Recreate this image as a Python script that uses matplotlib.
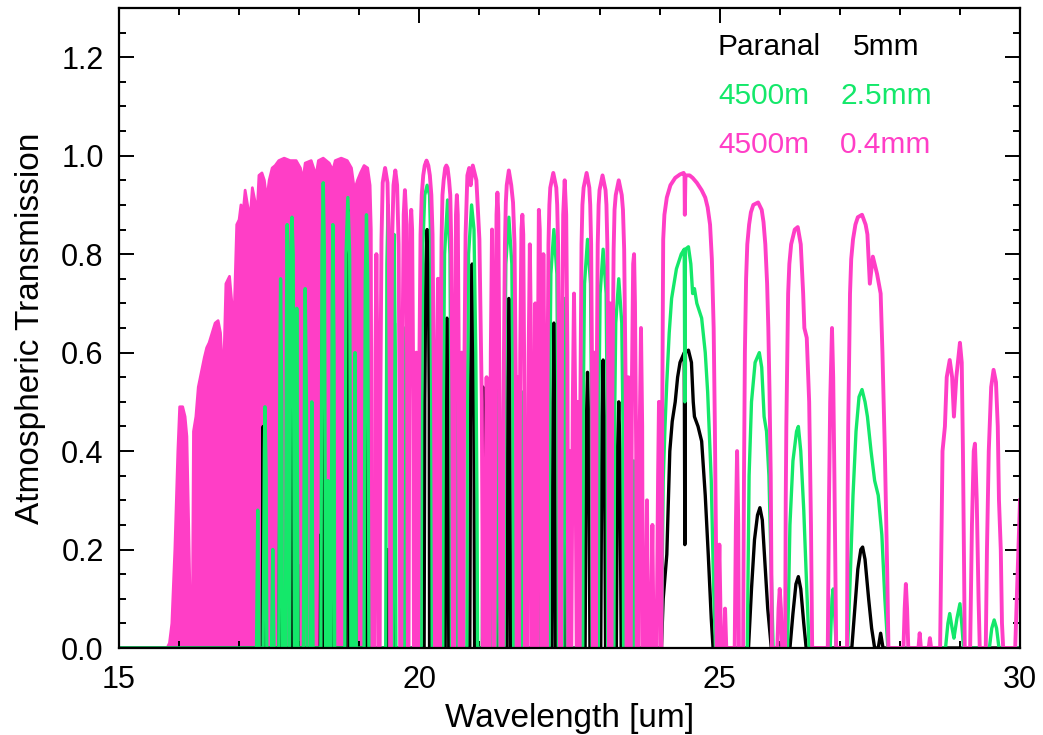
import numpy as np
import matplotlib.pyplot as plt

# transmission curves, (wavelength [um], transmission) pairs
# pink: unresolved line forest at short wavelengths, given as its upper envelope
pink_forest = [
    (15.00, 0.0), (15.80, 0.0), (15.84, 0.01), (15.88, 0.05), (15.93, 0.20),
    (15.98, 0.40), (16.01, 0.49), (16.06, 0.49), (16.10, 0.47), (16.13, 0.43),
    (16.16, 0.25), (16.18, 0.12), (16.20, 0.02), (16.22, 0.02), (16.24, 0.44),
    (16.28, 0.47), (16.32, 0.53), (16.37, 0.56), (16.42, 0.59), (16.46, 0.61),
    (16.50, 0.62), (16.55, 0.64), (16.60, 0.66), (16.65, 0.665), (16.69, 0.64),
    (16.72, 0.57), (16.75, 0.60), (16.78, 0.74), (16.84, 0.755), (16.88, 0.70),
    (16.92, 0.69), (16.96, 0.86), (17.00, 0.87), (17.03, 0.90), (17.07, 0.89),
    (17.10, 0.93), (17.14, 0.90), (17.18, 0.87), (17.22, 0.935), (17.26, 0.91),
    (17.30, 0.885), (17.33, 0.96), (17.38, 0.965), (17.42, 0.95), (17.46, 0.91),
    (17.50, 0.95), (17.55, 0.975), (17.60, 0.98), (17.66, 0.99), (17.75, 0.995),
    (17.85, 0.99), (17.95, 0.99), (18.02, 0.975), (18.06, 0.95), (18.10, 0.985),
    (18.20, 0.99), (18.28, 0.96), (18.32, 0.99), (18.40, 0.995), (18.50, 0.985),
    (18.56, 0.97), (18.60, 0.99), (18.70, 0.995), (18.80, 0.99), (18.87, 0.975),
    (18.92, 0.93), (18.97, 0.95), (19.02, 0.965), (19.08, 0.98), (19.14, 0.975),
    (19.18, 0.94), (19.20, 0.85), (19.22, 0.0),
]

# pink: resolved windows, 4500m / 0.4mm
pink_pts = [
    (19.22, 0.0), (19.25, 0.0), (19.27, 0.6), (19.285, 0.80), (19.30, 0.6), (19.32, 0.0),
    (19.34, 0.0), (19.35, 0.49), (19.37, 0.83), (19.39, 0.945), (19.43, 0.975),
    (19.47, 0.945), (19.49, 0.83), (19.51, 0.49), (19.52, 0.0),
    (19.53, 0.5), (19.545, 0.82), (19.57, 0.94), (19.60, 0.97), (19.63, 0.94),
    (19.655, 0.82), (19.67, 0.5), (19.68, 0.0),
    (19.70, 0.0), (19.72, 0.6), (19.74, 0.88), (19.76, 0.93), (19.78, 0.88), (19.795, 0.6), (19.81, 0.0),
    (19.82, 0.0), (19.835, 0.6), (19.85, 0.86), (19.865, 0.89), (19.88, 0.85), (19.90, 0.5), (19.91, 0.0),
    (19.92, 0.0), (19.935, 0.45), (19.95, 0.60), (19.965, 0.45), (19.975, 0.0),
    (19.98, 0.0), (19.995, 0.5), (20.02, 0.84), (20.04, 0.92), (20.065, 0.96), (20.09, 0.98),
    (20.12, 0.99), (20.15, 0.98), (20.175, 0.96), (20.20, 0.92), (20.22, 0.84), (20.245, 0.5), (20.26, 0.0),
    (20.28, 0.0), (20.295, 0.55), (20.31, 0.75), (20.325, 0.55), (20.335, 0.0),
    (20.34, 0.0), (20.35, 0.49), (20.37, 0.83), (20.385, 0.92), (20.405, 0.95), (20.43, 0.975),
    (20.45, 0.98), (20.47, 0.975), (20.495, 0.95), (20.515, 0.92), (20.53, 0.83), (20.55, 0.49), (20.56, 0.0),
    (20.58, 0.0), (20.595, 0.6), (20.61, 0.88), (20.625, 0.92), (20.64, 0.88), (20.655, 0.6), (20.67, 0.0),
    (20.68, 0.0), (20.695, 0.45), (20.705, 0.6), (20.715, 0.4), (20.72, 0.0),
    (20.73, 0.0), (20.745, 0.5), (20.77, 0.84), (20.80, 0.96), (20.83, 0.975), (20.855, 0.94),
    (20.89, 0.98), (20.95, 0.95), (21.00, 0.83), (21.04, 0.5), (21.06, 0.0),
    (21.09, 0.0), (21.11, 0.4), (21.12, 0.55), (21.135, 0.4), (21.15, 0.0),
    (21.17, 0.0), (21.19, 0.6), (21.21, 0.85), (21.23, 0.6), (21.24, 0.0),
    (21.25, 0.0), (21.27, 0.6), (21.285, 0.88), (21.30, 0.925), (21.315, 0.88), (21.33, 0.6), (21.35, 0.0),
    (21.39, 0.0), (21.40, 0.48), (21.425, 0.82), (21.44, 0.905), (21.455, 0.94), (21.49, 0.97),
    (21.53, 0.94), (21.56, 0.905), (21.585, 0.82), (21.61, 0.48), (21.62, 0.0),
    (21.63, 0.0), (21.64, 0.4), (21.65, 0.55), (21.655, 0.0),
    (21.66, 0.0), (21.68, 0.6), (21.70, 0.85), (21.715, 0.88), (21.73, 0.84), (21.75, 0.5), (21.76, 0.0),
    (21.77, 0.0), (21.78, 0.45), (21.79, 0.0),
    (21.80, 0.0), (21.82, 0.6), (21.84, 0.82), (21.86, 0.6), (21.87, 0.0),
    (21.90, 0.0), (21.92, 0.5), (21.93, 0.70), (21.945, 0.5), (21.955, 0.0),
    (21.96, 0.0), (21.975, 0.6), (21.99, 0.89), (22.005, 0.85), (22.02, 0.5), (22.03, 0.0),
    (22.04, 0.0), (22.055, 0.6), (22.065, 0.80), (22.08, 0.6), (22.09, 0.0),
    (22.095, 0.0), (22.105, 0.5), (22.115, 0.0),
    (22.12, 0.0), (22.13, 0.48), (22.15, 0.82), (22.165, 0.9), (22.18, 0.935), (22.23, 0.965),
    (22.28, 0.935), (22.295, 0.9), (22.31, 0.82), (22.33, 0.48), (22.34, 0.0),
    (22.36, 0.0), (22.375, 0.6), (22.395, 0.88), (22.42, 0.95), (22.445, 0.88), (22.465, 0.6), (22.48, 0.0),
    (22.49, 0.0), (22.50, 0.4), (22.515, 0.0),
    (22.53, 0.0), (22.555, 0.5), (22.575, 0.72), (22.595, 0.5), (22.62, 0.0),
    (22.63, 0.0), (22.645, 0.5), (22.66, 0.0),
    (22.67, 0.0), (22.68, 0.48), (22.70, 0.82), (22.715, 0.9), (22.735, 0.935), (22.785, 0.965),
    (22.83, 0.935), (22.845, 0.9), (22.86, 0.82), (22.88, 0.48), (22.89, 0.0),
    (22.90, 0.0), (22.915, 0.6), (22.93, 0.0),
    (22.94, 0.0), (22.95, 0.48), (22.97, 0.82), (22.985, 0.9), (23.00, 0.93), (23.05, 0.96),
    (23.10, 0.93), (23.115, 0.9), (23.13, 0.82), (23.15, 0.48), (23.16, 0.0),
    (23.17, 0.0), (23.18, 0.7), (23.19, 0.0),
    (23.20, 0.0), (23.21, 0.47), (23.235, 0.81), (23.25, 0.89), (23.27, 0.92), (23.32, 0.95),
    (23.37, 0.92), (23.39, 0.89), (23.41, 0.81), (23.44, 0.47), (23.45, 0.0),
    (23.46, 0.0), (23.48, 0.55), (23.50, 0.0),
    (23.52, 0.0), (23.54, 0.55), (23.56, 0.78), (23.575, 0.80), (23.59, 0.7), (23.61, 0.4), (23.62, 0.0),
    (23.65, 0.0), (23.67, 0.45), (23.69, 0.65), (23.71, 0.45), (23.72, 0.0),
    (23.76, 0.0), (23.79, 0.30), (23.81, 0.0), (23.85, 0.0), (23.88, 0.25), (23.90, 0.0),
    (23.95, 0.0), (23.975, 0.35), (23.99, 0.50), (24.005, 0.35), (24.02, 0.0),
    (24.03, 0.0), (24.045, 0.5), (24.06, 0.83), (24.08, 0.88), (24.12, 0.915), (24.18, 0.94),
    (24.26, 0.955), (24.34, 0.962), (24.40, 0.965), (24.415, 0.96), (24.42, 0.88), (24.43, 0.96),
    (24.50, 0.96), (24.55, 0.955), (24.62, 0.945), (24.70, 0.93), (24.76, 0.915), (24.80, 0.895),
    (24.84, 0.86), (24.87, 0.79), (24.90, 0.65), (24.92, 0.45), (24.94, 0.2), (24.95, 0.0),
    (24.97, 0.0), (24.985, 0.15), (24.995, 0.21), (25.01, 0.1), (25.02, 0.0),
    (25.07, 0.0), (25.09, 0.08), (25.11, 0.0),
    (25.25, 0.0), (25.27, 0.25), (25.29, 0.40), (25.31, 0.25), (25.32, 0.0),
    (25.39, 0.0), (25.405, 0.35), (25.42, 0.60), (25.44, 0.75), (25.46, 0.82), (25.49, 0.86),
    (25.52, 0.885), (25.56, 0.90), (25.64, 0.905), (25.70, 0.89), (25.73, 0.865), (25.76, 0.82),
    (25.79, 0.74), (25.81, 0.65), (25.83, 0.52), (25.85, 0.35), (25.87, 0.0),
    (25.96, 0.0), (25.98, 0.08), (26.00, 0.12), (26.02, 0.08), (26.04, 0.0),
    (26.09, 0.0), (26.10, 0.3), (26.11, 0.45), (26.14, 0.72), (26.16, 0.78), (26.19, 0.82),
    (26.25, 0.85), (26.30, 0.855), (26.35, 0.82), (26.39, 0.72), (26.41, 0.65), (26.45, 0.63),
    (26.49, 0.5), (26.52, 0.25), (26.54, 0.0),
    (26.80, 0.0), (26.82, 0.3), (26.84, 0.5), (26.87, 0.65), (26.89, 0.55), (26.91, 0.35), (26.94, 0.0),
    (27.12, 0.0), (27.13, 0.3), (27.14, 0.45), (27.17, 0.72), (27.19, 0.79), (27.22, 0.83),
    (27.26, 0.86), (27.30, 0.875), (27.37, 0.88), (27.43, 0.86), (27.46, 0.84), (27.50, 0.74),
    (27.55, 0.795), (27.62, 0.76), (27.68, 0.72), (27.71, 0.60), (27.75, 0.40), (27.79, 0.15), (27.81, 0.0),
    (28.06, 0.0), (28.08, 0.08), (28.10, 0.13), (28.12, 0.08), (28.14, 0.0),
    (28.31, 0.0), (28.33, 0.03), (28.35, 0.0),
    (28.48, 0.0), (28.50, 0.02), (28.52, 0.0),
    (28.67, 0.0), (28.69, 0.2), (28.71, 0.40), (28.75, 0.45), (28.78, 0.55), (28.83, 0.585),
    (28.87, 0.55), (28.90, 0.47), (28.94, 0.55), (29.00, 0.62), (29.03, 0.58), (29.05, 0.40),
    (29.07, 0.15), (29.08, 0.0),
    (29.17, 0.0), (29.20, 0.25), (29.23, 0.40), (29.25, 0.415), (29.28, 0.30), (29.31, 0.1), (29.33, 0.0),
    (29.43, 0.0), (29.45, 0.2), (29.48, 0.40), (29.52, 0.53), (29.56, 0.565), (29.60, 0.54),
    (29.63, 0.45), (29.65, 0.30), (29.68, 0.20), (29.70, 0.05), (29.72, 0.0),
    (29.92, 0.0), (29.96, 0.15), (30.00, 0.30),
]

# green: 4500m / 2.5mm
green_pts = [
    (15.00, 0.0), (17.29, 0.0), (17.31, 0.28), (17.33, 0.0),
    (17.40, 0.0), (17.42, 0.40), (17.43, 0.49), (17.45, 0.35), (17.46, 0.0),
    (17.54, 0.0), (17.56, 0.2), (17.58, 0.0),
    (17.66, 0.0), (17.68, 0.6), (17.69, 0.75), (17.71, 0.5), (17.72, 0.0),
    (17.77, 0.0), (17.79, 0.7), (17.80, 0.86), (17.82, 0.6), (17.83, 0.0),
    (17.84, 0.0), (17.86, 0.8), (17.88, 0.875), (17.90, 0.8), (17.92, 0.0),
    (17.94, 0.0), (17.96, 0.69), (17.98, 0.0),
    (18.07, 0.0), (18.09, 0.6), (18.10, 0.73), (18.12, 0.5), (18.13, 0.0),
    (18.19, 0.0), (18.21, 0.5), (18.23, 0.0),
    (18.36, 0.0), (18.38, 0.8), (18.40, 0.945), (18.42, 0.8), (18.44, 0.0),
    (18.46, 0.0), (18.48, 0.34), (18.50, 0.0),
    (18.53, 0.0), (18.55, 0.7), (18.56, 0.86), (18.58, 0.6), (18.59, 0.0),
    (18.76, 0.0), (18.78, 0.8), (18.81, 0.915), (18.84, 0.8), (18.86, 0.0),
    (18.91, 0.0), (18.93, 0.6), (18.95, 0.0),
    (19.08, 0.0), (19.10, 0.75), (19.12, 0.88), (19.14, 0.75), (19.16, 0.0),
    (19.44, 0.0), (19.46, 0.78), (19.48, 0.90), (19.50, 0.78), (19.52, 0.0),
    (19.55, 0.0), (19.57, 0.7), (19.58, 0.84), (19.60, 0.6), (19.61, 0.0),
    (19.74, 0.0), (19.76, 0.65), (19.78, 0.0),
    (20.03, 0.0), (20.04, 0.5), (20.06, 0.82), (20.09, 0.92), (20.13, 0.94),
    (20.17, 0.92), (20.19, 0.82), (20.205, 0.5), (20.215, 0.0),
    (20.39, 0.0), (20.40, 0.5), (20.42, 0.8), (20.47, 0.91), (20.51, 0.8), (20.525, 0.5), (20.535, 0.0),
    (20.60, 0.0), (20.62, 0.55), (20.64, 0.0),
    (20.79, 0.0), (20.80, 0.5), (20.82, 0.8), (20.87, 0.90), (20.91, 0.85), (20.94, 0.6), (20.96, 0.3), (20.97, 0.0),
    (21.19, 0.0), (21.21, 0.45), (21.23, 0.0),
    (21.27, 0.0), (21.29, 0.6), (21.30, 0.72), (21.32, 0.5), (21.33, 0.0),
    (21.41, 0.0), (21.42, 0.5), (21.44, 0.78), (21.49, 0.875), (21.54, 0.78), (21.56, 0.5), (21.57, 0.0),
    (21.69, 0.0), (21.71, 0.52), (21.73, 0.0),
    (21.97, 0.0), (21.99, 0.57), (22.01, 0.0),
    (22.16, 0.0), (22.17, 0.5), (22.19, 0.76), (22.24, 0.85), (22.29, 0.76), (22.305, 0.5), (22.315, 0.0),
    (22.39, 0.0), (22.41, 0.6), (22.42, 0.71), (22.44, 0.6), (22.46, 0.0),
    (22.72, 0.0), (22.73, 0.5), (22.75, 0.74), (22.80, 0.83), (22.85, 0.74), (22.865, 0.5), (22.875, 0.0),
    (22.98, 0.0), (22.99, 0.5), (23.01, 0.72), (23.06, 0.81), (23.11, 0.72), (23.125, 0.5), (23.135, 0.0),
    (23.24, 0.0), (23.25, 0.45), (23.27, 0.66), (23.32, 0.75), (23.37, 0.66), (23.39, 0.45), (23.40, 0.0),
    (23.55, 0.0), (23.57, 0.38), (23.59, 0.0),
    (24.03, 0.0), (24.06, 0.34), (24.09, 0.45), (24.12, 0.54), (24.16, 0.64), (24.20, 0.71),
    (24.28, 0.77), (24.36, 0.80), (24.41, 0.81), (24.42, 0.50), (24.43, 0.81), (24.48, 0.815),
    (24.52, 0.78), (24.55, 0.72), (24.58, 0.73), (24.62, 0.70), (24.70, 0.67), (24.76, 0.60),
    (24.80, 0.52), (24.86, 0.34), (24.90, 0.12), (24.93, 0.0),
    (25.46, 0.0), (25.49, 0.35), (25.53, 0.50), (25.59, 0.58), (25.66, 0.60), (25.70, 0.57),
    (25.74, 0.47), (25.78, 0.44), (25.82, 0.35), (25.86, 0.15), (25.89, 0.0),
    (26.13, 0.0), (26.17, 0.25), (26.22, 0.38), (26.28, 0.44), (26.31, 0.45), (26.35, 0.40),
    (26.40, 0.28), (26.45, 0.12), (26.49, 0.0),
    (26.84, 0.0), (26.87, 0.10), (26.89, 0.12), (26.91, 0.08), (26.94, 0.0),
    (27.13, 0.0), (27.17, 0.13), (27.22, 0.31), (27.27, 0.44), (27.32, 0.51), (27.37, 0.525),
    (27.42, 0.50), (27.46, 0.47), (27.52, 0.40), (27.58, 0.34), (27.64, 0.31), (27.70, 0.23),
    (27.75, 0.10), (27.80, 0.0),
    (28.76, 0.0), (28.80, 0.05), (28.83, 0.07), (28.87, 0.04), (28.90, 0.02), (28.95, 0.06),
    (29.00, 0.09), (29.03, 0.05), (29.06, 0.0),
    (29.49, 0.0), (29.53, 0.04), (29.57, 0.057), (29.61, 0.04), (29.65, 0.0),
    (30.00, 0.0),
]

# black: Paranal / 5mm
black_pts = [
    (15.00, 0.0), (17.385, 0.0), (17.40, 0.45), (17.415, 0.0),
    (17.665, 0.0), (17.68, 0.40), (17.695, 0.0),
    (17.85, 0.0), (17.865, 0.7), (17.875, 0.85), (17.89, 0.7), (17.90, 0.0),
    (17.96, 0.0), (17.97, 0.17), (17.98, 0.0),
    (18.35, 0.0), (18.36, 0.23), (18.37, 0.1), (18.385, 0.6), (18.395, 0.74), (18.41, 0.0),
    (18.54, 0.0), (18.55, 0.35), (18.56, 0.0),
    (18.78, 0.0), (18.795, 0.75), (18.81, 0.89), (18.825, 0.75), (18.84, 0.0),
    (18.92, 0.0), (18.93, 0.48), (18.94, 0.0),
    (19.10, 0.0), (19.115, 0.65), (19.12, 0.73), (19.135, 0.6), (19.14, 0.0),
    (19.46, 0.0), (19.47, 0.2), (19.48, 0.0),
    (19.57, 0.0), (19.585, 0.66), (19.60, 0.0),
    (20.08, 0.0), (20.09, 0.5), (20.11, 0.78), (20.13, 0.85), (20.15, 0.78), (20.165, 0.5), (20.17, 0.0),
    (20.43, 0.0), (20.445, 0.5), (20.46, 0.67), (20.475, 0.5), (20.49, 0.0),
    (20.84, 0.0), (20.855, 0.55), (20.87, 0.76), (20.88, 0.78), (20.895, 0.7), (20.91, 0.45), (20.92, 0.0),
    (21.05, 0.0), (21.06, 0.53), (21.07, 0.0),
    (21.29, 0.0), (21.30, 0.35), (21.31, 0.0),
    (21.46, 0.0), (21.475, 0.55), (21.49, 0.71), (21.505, 0.55), (21.52, 0.0),
    (21.70, 0.0), (21.71, 0.25), (21.72, 0.0),
    (21.98, 0.0), (21.99, 0.3), (22.00, 0.0),
    (22.21, 0.0), (22.225, 0.5), (22.24, 0.66), (22.255, 0.5), (22.27, 0.0),
    (22.40, 0.0), (22.42, 0.42), (22.44, 0.0),
    (22.76, 0.0), (22.78, 0.45), (22.80, 0.56), (22.82, 0.45), (22.84, 0.0),
    (23.02, 0.0), (23.04, 0.47), (23.06, 0.585), (23.08, 0.47), (23.10, 0.0),
    (23.28, 0.0), (23.30, 0.40), (23.32, 0.50), (23.34, 0.40), (23.36, 0.0),
    (24.03, 0.0), (24.06, 0.10), (24.12, 0.19), (24.17, 0.40), (24.21, 0.46), (24.26, 0.50),
    (24.30, 0.55), (24.34, 0.58), (24.41, 0.60), (24.42, 0.21), (24.43, 0.60), (24.48, 0.605),
    (24.53, 0.58), (24.56, 0.50), (24.58, 0.47), (24.64, 0.45), (24.70, 0.42), (24.76, 0.31),
    (24.81, 0.19), (24.86, 0.06), (24.89, 0.0),
    (25.48, 0.0), (25.53, 0.12), (25.58, 0.22), (25.63, 0.27), (25.67, 0.285), (25.71, 0.26),
    (25.75, 0.18), (25.80, 0.08), (25.86, 0.0),
    (26.17, 0.0), (26.22, 0.07), (26.27, 0.13), (26.31, 0.145), (26.35, 0.12), (26.40, 0.05), (26.44, 0.0),
    (27.20, 0.0), (27.25, 0.08), (27.30, 0.16), (27.35, 0.20), (27.38, 0.205), (27.42, 0.18),
    (27.48, 0.10), (27.53, 0.04), (27.58, 0.0),
    (27.64, 0.0), (27.68, 0.03), (27.72, 0.0),
    (30.00, 0.0),
]

labels = [("Paranal", "5mm"), ("4500m", "2.5mm"), ("4500m", "0.4mm")]

PINK = "#ff3ec6"
GREEN = "#14e86a"
BLACK = "#000000"
FONT = ["Liberation Sans", "DejaVu Sans"]

fig = plt.figure(figsize=(10.43, 7.35), dpi=100)
ax = fig.add_axes([119 / 1043, 1 - 648 / 735, 901 / 1043, 640 / 735])

fx, fy = np.array(pink_forest).T
px, py = np.array(pink_pts).T
gx, gy = np.array(green_pts).T
bx, by = np.array(black_pts).T

ax.fill_between(fx, 0, fy, color=PINK, lw=0, zorder=1)
ax.plot(fx, fy, color=PINK, lw=2.0, zorder=1)
ax.plot(bx, by, color=BLACK, lw=2.4, zorder=2)
ax.plot(gx, gy, color=GREEN, lw=2.4, zorder=3)
ax.plot(px, py, color=PINK, lw=2.8, zorder=4)

ax.set_xlim(15, 30)
ax.set_ylim(0, 1.30)
ax.set_xticks([15, 20, 25, 30])
ax.set_xticks(np.arange(15, 31, 1), minor=True)
ax.set_yticks(np.arange(0, 1.21, 0.2))
ax.set_yticks(np.arange(0, 1.30, 0.05), minor=True)
ax.set_yticklabels(["%.1f" % v for v in np.arange(0, 1.21, 0.2)])

ax.tick_params(which="both", direction="in", top=True, right=True, width=1.4, color="black")
ax.tick_params(which="major", length=10.5)
ax.tick_params(which="minor", length=5)
ax.tick_params(axis="y", labelsize=22, pad=11)
ax.tick_params(axis="x", labelsize=22, pad=12)
for lab in ax.get_xticklabels() + ax.get_yticklabels():
    lab.set_family(FONT)
for s in ax.spines.values():
    s.set_linewidth(1.6)
    s.set_zorder(6)

ax.set_xlabel("Wavelength [um]", fontsize=24, family=FONT, labelpad=6)
ax.set_ylabel("Atmospheric Transmission", fontsize=24, family=FONT, labelpad=11)

rows_y = [47, 96, 145]
colors = [BLACK, GREEN, PINK]
right_x = [853, 840, 840]
for (site, pwv), yy, c, rx in zip(labels, rows_y, colors, right_x):
    fig.text(718 / 1043, 1 - yy / 735, site, color=c, fontsize=21.5,
             family=FONT, va="center", ha="left")
    fig.text(rx / 1043, 1 - yy / 735, pwv, color=c, fontsize=21.5,
             family=FONT, va="center", ha="left")

fig.savefig("out.png", dpi=100)
